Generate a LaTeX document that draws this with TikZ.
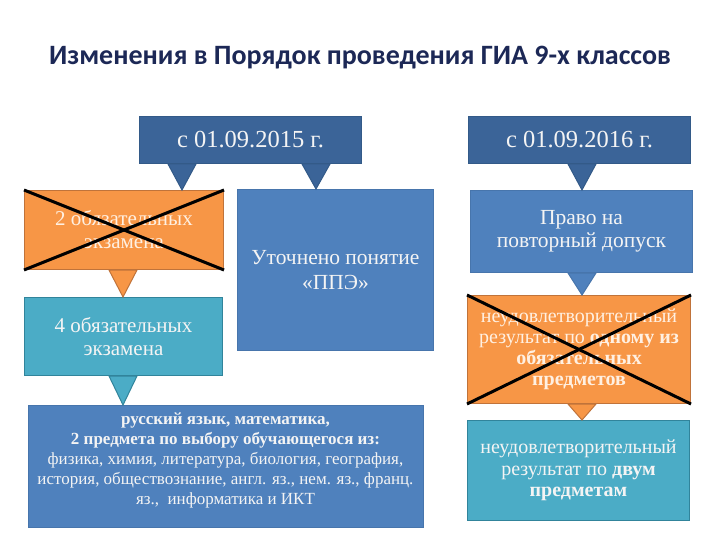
\documentclass[tikz,border=0pt]{standalone}
\usepackage{fontspec}
\setmainfont{Liberation Serif}
\newfontfamily\titlefont{Carlito}
\usetikzlibrary{calc}
\definecolor{titleblue}{HTML}{1C2856}
\definecolor{dkblue}{HTML}{3B6498}
\definecolor{dkblueb}{HTML}{335A88}
\definecolor{mblue}{HTML}{4F81BD}
\definecolor{mblueb}{HTML}{4775AC}
\definecolor{orng}{HTML}{F79646}
\definecolor{orngb}{HTML}{C0733A}
\definecolor{tealc}{HTML}{4BACC6}
\definecolor{tealb}{HTML}{31849B}
\definecolor{lighttext}{HTML}{F4F4F4}
\definecolor{creamtext}{HTML}{FFF0E2}
\newcommand\fs[2]{\fontsize{#1}{#2}\selectfont}
\newcommand\ptr[4]{%
  \path #3 coordinate (pb);
  \filldraw[fill=#1,draw=#2,line width=1pt] ($(pb)+(-14,0)$) -- ($(pb)+(14,0)$) -- (pb |- #4) -- cycle;}
\begin{document}
\begin{tikzpicture}[x=1pt,y=-1pt,
  box/.style={anchor=north west, inner sep=0pt, align=center, text=lighttext, line width=1pt},
  darkbox/.style={box, fill=dkblue, draw=dkblueb},
  bluebox/.style={box, fill=mblue, draw=mblueb},
  orangebox/.style={box, fill=orng, draw=orngb, text=creamtext},
  tealbox/.style={box, fill=tealc, draw=tealb},
  crossline/.style={draw=black, line width=3pt}
]
\useasboundingbox (0,0) rectangle (720,540);
\fill[white] (0,0) rectangle (720,540);

\node[anchor=base, font=\titlefont\bfseries\fs{28}{32}, text=titleblue] (title) at (360,65)
  {Изменения в Порядок проведения ГИА 9-х классов};

\node[darkbox, minimum width=222pt, minimum height=47pt, font=\fs{24.5}{28}] (d2015) at (139,116) {с 01.09.2015 г.};
\node[darkbox, minimum width=222pt, minimum height=47pt, font=\fs{24.5}{28}] (d2016) at (468,116) {с 01.09.2016 г.};

\node[orangebox, minimum width=199pt, minimum height=79pt, font=\fs{21}{23}] (or1) at (24,190) {2 обязательных\\экзамена};
\node[tealbox, minimum width=198pt, minimum height=78pt, font=\fs{21}{23}] (te1) at (24,297) {4 обязательных\\экзамена};
\node[bluebox, minimum width=196pt, minimum height=161pt, font=\fs{21.5}{25}] (ppe) at (237,189) {Уточнено понятие\\«ППЭ»};
\node[bluebox, minimum width=222pt, minimum height=82pt, font=\fs{21.5}{23}] (pravo) at (470,190) {Право на\\повторный допуск};
\node[orangebox, minimum width=223pt, minimum height=108pt, font=\fs{20}{21}] (or2) at (467,295)
  {неудовлетворительный\\результат по \textbf{одному из}\\\textbf{обязательных}\\\textbf{предметов}};
\node[tealbox, minimum width=222pt, minimum height=100pt, font=\fs{20}{21.5}] (te2) at (467,420)
  {неудовлетворительный\\результат по \textbf{двум}\\\textbf{предметам}};
\node[bluebox, minimum width=395pt, minimum height=122pt] (subj) at (28,405) {};
\node[align=center, text=lighttext, font=\fs{17}{20}, inner sep=0pt] (subjtext) at (225.5,460)
  {\textbf{русский язык, математика,}\\\textbf{2 предмета по выбору обучающегося из:}\\
   физика, химия, литература, биология, география,\\
   история, обществознание, англ. яз., нем. яз., франц.\\
   яз., \ информатика и ИКТ};

\ptr{dkblue}{dkblueb}{($(d2015.south west)+(43,0)$)}{or1.north}
\ptr{dkblue}{dkblueb}{($(d2015.south west)+(177,0)$)}{ppe.north}
\ptr{dkblue}{dkblueb}{($(d2016.south west)+(114,0)$)}{pravo.north}
\ptr{orng}{orngb}{($(or1.south west)+(99,0)$)}{te1.north}
\ptr{tealc}{tealb}{($(te1.south west)+(99,0)$)}{subj.north}
\ptr{mblue}{mblueb}{($(pravo.south west)+(112,0)$)}{or2.north}
\ptr{orng}{orngb}{($(or2.south west)+(115,0)$)}{te2.north}

\draw[crossline] (or1.north west) -- (or1.south east);
\draw[crossline] (or1.south west) -- (or1.north east);
\draw[crossline] (or2.north west) -- (or2.south east);
\draw[crossline] (or2.south west) -- (or2.north east);
\end{tikzpicture}
\end{document}
